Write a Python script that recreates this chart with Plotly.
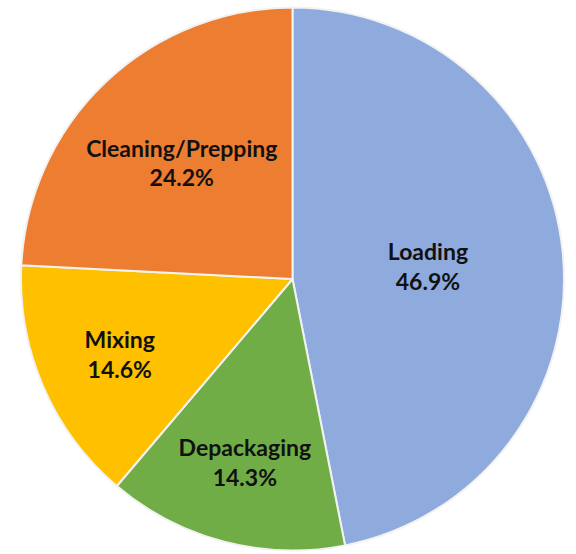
import plotly.graph_objects as go

labels = ["Loading", "Depackaging", "Mixing", "Cleaning/Prepping"]
values = [46.9, 14.3, 14.6, 24.2]
colors = ["#8FAADC", "#70AD47", "#FFC000", "#ED7D31"]

fig = go.Figure(go.Pie(
    labels=labels,
    values=values,
    sort=False,
    direction="clockwise",
    rotation=0,
    marker=dict(colors=colors, line=dict(color="#F2F2F2", width=2)),
    texttemplate="<b>%{label}</b><br><b>%{value:.1f}%</b>",
    textposition="inside",
    insidetextorientation="horizontal",
    textfont=dict(family="Lato", size=23, color="#111111"),
    hoverinfo="skip",
    showlegend=False,
))

fig.update_layout(
    width=576, height=554,
    margin=dict(l=21, r=12, t=7, b=3),
    paper_bgcolor="white",
    plot_bgcolor="white",
)

fig.write_html(
    "out.html",
    config={"displayModeBar": False},
    post_script="document.body.style.margin='0';document.body.style.padding='0';",
)
